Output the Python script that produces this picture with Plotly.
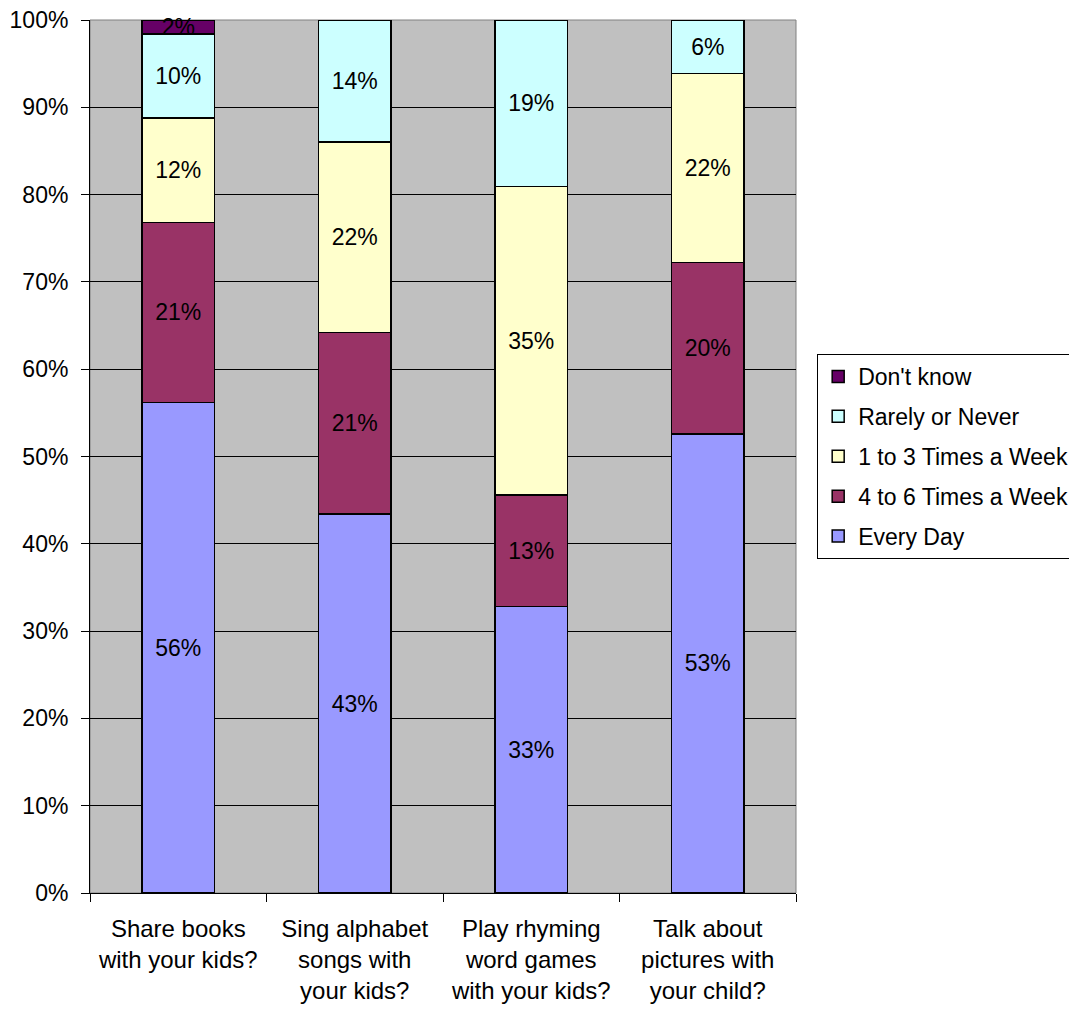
import plotly.graph_objects as go

categories = ["Share books<br>with your kids?", "Sing alphabet<br>songs with<br>your kids?",
              "Play rhyming<br>word games<br>with your kids?", "Talk about<br>pictures with<br>your child?"]
every_day = [56.2, 43.4, 32.8, 52.6]
four_to_six = [20.6, 20.8, 12.8, 19.6]
one_to_three = [12.0, 21.8, 35.3, 21.7]
rarely_never = [9.6, 14.0, 19.1, 6.1]
dont_know = [1.6, None, None, None]

series = [
    ("Every Day", every_day, "#9999FF"),
    ("4 to 6 Times a Week", four_to_six, "#993366"),
    ("1 to 3 Times a Week", one_to_three, "#FFFFCC"),
    ("Rarely or Never", rarely_never, "#CCFFFF"),
    ("Don't know", dont_know, "#660066"),
]

FONT = "Liberation Sans, Arial, sans-serif"
fig = go.Figure()
for i, (name, vals, color) in enumerate(series):
    fig.add_trace(go.Bar(
        x=categories, y=vals, name=name, legendgroup=name, legendrank=len(series) - i,
        marker=dict(color=color, line=dict(color="black", width=1.5)),
        width=0.41,
        texttemplate="%{y:.0f}%", textposition="inside", insidetextanchor="middle",
        constraintext="none", cliponaxis=False,
        textfont=dict(color="black", size=23, family=FONT),
    ))

fig.update_layout(
    barmode="stack",
    width=1077, height=1000,
    margin=dict(l=82, r=289, t=12, b=115, autoexpand=False),
    paper_bgcolor="white", plot_bgcolor="#C0C0C0",
    font=dict(family=FONT, size=23, color="black"),
    showlegend=True,
    legend=dict(traceorder="grouped", x=1.03, xanchor="left", y=0.5, yanchor="middle",
                bordercolor="black", borderwidth=1, bgcolor="white",
                font=dict(size=23, family=FONT), tracegroupgap=7, itemwidth=30),
    shapes=[dict(type="rect", xref="paper", yref="paper", x0=0, x1=1, y0=0, y1=1,
                 line=dict(color="#808080", width=1), layer="below")],
    xaxis=dict(showline=True, linecolor="black", linewidth=1, ticks="outside",
               tickson="boundaries", ticklen=8, tickcolor="black", ticklabelstandoff=14,
               automargin=False,
               tickfont=dict(size=24, family=FONT, color="black")),
    yaxis=dict(range=[0, 100], dtick=10, ticksuffix="%", showgrid=True,
               gridcolor="black", gridwidth=1, showline=True, linecolor="black",
               ticks="outside", ticklen=8, tickcolor="black", zeroline=False,
               ticklabelstandoff=8, ticklabeloverflow="allow", automargin=False,
               tickfont=dict(size=23, family=FONT, color="black")),
)
fig.write_html("out.html")
